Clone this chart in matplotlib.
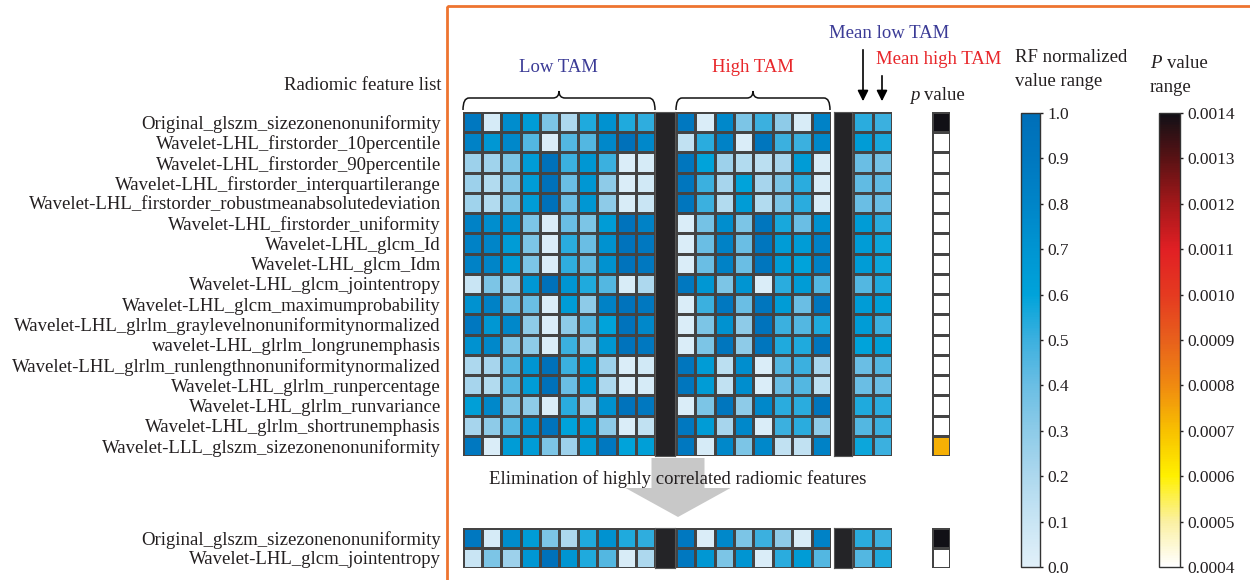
import numpy as np
import matplotlib.pyplot as plt
from matplotlib.colors import LinearSegmentedColormap, Normalize
from matplotlib.patches import Rectangle, FancyArrow, PathPatch
from matplotlib.path import Path
from matplotlib.cm import ScalarMappable

plt.rcParams['font.family'] = ['Liberation Serif', 'DejaVu Serif']
TXT = '#231f20'

# ---------------- data ----------------
features = [
    'Original_glszm_sizezonenonuniformity',
    'Wavelet-LHL_firstorder_10percentile',
    'Wavelet-LHL_firstorder_90percentile',
    'Wavelet-LHL_firstorder_interquartilerange',
    'Wavelet-LHL_firstorder_robustmeanabsolutedeviation',
    'Wavelet-LHL_firstorder_uniformity',
    'Wavelet-LHL_glcm_Id',
    'Wavelet-LHL_glcm_Idm',
    'Wavelet-LHL_glcm_jointentropy',
    'Wavelet-LHL_glcm_maximumprobability',
    'Wavelet-LHL_glrlm_graylevelnonuniformitynormalized',
    'wavelet-LHL_glrlm_longrunemphasis',
    'Wavelet-LHL_glrlm_runlengthnonuniformitynormalized',
    'Wavelet-LHL_glrlm_runpercentage',
    'Wavelet-LHL_glrlm_runvariance',
    'Wavelet-LHL_glrlm_shortrunemphasis',
    'Wavelet-LLL_glszm_sizezonenonuniformity',
]

low_tam = np.array([
    [0.90, 0.05, 0.75, 0.65, 0.35, 0.20, 0.55, 0.72, 0.55, 0.52],
    [0.82, 0.68, 0.78, 0.45, 0.03, 0.45, 0.45, 0.78, 0.97, 0.78],
    [0.25, 0.24, 0.35, 0.65, 0.97, 0.50, 0.68, 0.50, 0.03, 0.05],
    [0.25, 0.18, 0.33, 0.65, 0.97, 0.40, 0.68, 0.30, 0.03, 0.07],
    [0.24, 0.18, 0.35, 0.65, 0.97, 0.40, 0.68, 0.30, 0.04, 0.10],
    [0.82, 0.74, 0.72, 0.35, 0.03, 0.40, 0.35, 0.65, 0.95, 0.82],
    [0.82, 0.80, 0.65, 0.35, 0.03, 0.53, 0.40, 0.72, 0.95, 0.90],
    [0.82, 0.80, 0.65, 0.35, 0.03, 0.52, 0.42, 0.72, 0.95, 0.90],
    [0.10, 0.35, 0.25, 0.68, 0.97, 0.70, 0.55, 0.45, 0.04, 0.20],
    [0.72, 0.82, 0.40, 0.40, 0.03, 0.65, 0.30, 0.82, 0.95, 0.90],
    [0.90, 0.68, 0.78, 0.30, 0.03, 0.30, 0.45, 0.60, 0.95, 0.78],
    [0.72, 0.78, 0.35, 0.30, 0.03, 0.50, 0.30, 0.68, 0.95, 0.90],
    [0.20, 0.22, 0.45, 0.70, 0.97, 0.50, 0.65, 0.25, 0.03, 0.07],
    [0.22, 0.18, 0.45, 0.65, 0.97, 0.40, 0.65, 0.20, 0.03, 0.05],
    [0.63, 0.78, 0.35, 0.30, 0.03, 0.53, 0.25, 0.72, 0.95, 0.90],
    [0.22, 0.30, 0.45, 0.72, 0.95, 0.60, 0.65, 0.30, 0.03, 0.13],
    [0.90, 0.03, 0.65, 0.65, 0.35, 0.25, 0.65, 0.90, 0.60, 0.63],
])

high_tam = np.array([
    [0.90, 0.03, 0.78, 0.35, 0.50, 0.30, 0.04, 0.82],
    [0.13, 0.53, 0.82, 0.03, 0.92, 0.50, 0.50, 0.78],
    [0.92, 0.60, 0.25, 0.18, 0.15, 0.22, 0.65, 0.04],
    [0.92, 0.50, 0.22, 0.60, 0.22, 0.35, 0.53, 0.04],
    [0.92, 0.50, 0.18, 0.65, 0.18, 0.35, 0.53, 0.04],
    [0.03, 0.37, 0.74, 0.35, 0.92, 0.56, 0.40, 0.72],
    [0.03, 0.40, 0.82, 0.40, 0.92, 0.65, 0.65, 0.82],
    [0.03, 0.40, 0.82, 0.40, 0.92, 0.65, 0.60, 0.82],
    [0.90, 0.68, 0.35, 0.70, 0.03, 0.53, 0.65, 0.45],
    [0.03, 0.50, 0.90, 0.40, 0.92, 0.65, 0.40, 0.92],
    [0.03, 0.35, 0.72, 0.30, 0.95, 0.50, 0.45, 0.55],
    [0.03, 0.35, 0.92, 0.30, 0.92, 0.55, 0.55, 0.92],
    [0.92, 0.65, 0.15, 0.74, 0.03, 0.45, 0.50, 0.22],
    [0.92, 0.65, 0.13, 0.74, 0.03, 0.40, 0.45, 0.15],
    [0.03, 0.35, 0.92, 0.30, 0.78, 0.53, 0.53, 0.92],
    [0.90, 0.65, 0.22, 0.78, 0.03, 0.50, 0.53, 0.30],
    [0.90, 0.05, 0.78, 0.35, 0.78, 0.13, 0.13, 0.82],
])

mean_low = [0.53, 0.65, 0.40, 0.42, 0.40, 0.65, 0.65, 0.65, 0.45,
            0.65, 0.65, 0.60, 0.40, 0.40, 0.55, 0.45, 0.58]
mean_high = [0.50, 0.56, 0.37, 0.42, 0.40, 0.53, 0.58, 0.58, 0.55,
             0.63, 0.50, 0.63, 0.45, 0.40, 0.53, 0.50, 0.50]
p_values = [0.0014, 0.0004, 0.0004, 0.0004, 0.0004, 0.0004, 0.0004, 0.0004, 0.0004,
            0.0004, 0.0004, 0.0004, 0.0004, 0.0004, 0.0004, 0.0004, 0.00073]

# features left after removing highly correlated ones
kept = [0, 8]

rf_ticks = [0.0, 0.1, 0.2, 0.3, 0.4, 0.5, 0.6, 0.7, 0.8, 0.9, 1.0]
p_ticks = [0.0004, 0.0005, 0.0006, 0.0007, 0.0008, 0.0009, 0.0010,
           0.0011, 0.0012, 0.0013, 0.0014]

# ---------------- colours ----------------
blues = LinearSegmentedColormap.from_list('rf', [
    '#e1f0f9', '#c9e5f4', '#add8ee', '#8dcbe8', '#6abee4', '#3cb0df',
    '#00a3da', '#0095d2', '#0085c8', '#0078c0', '#006fb8'])
hot = LinearSegmentedColormap.from_list('pv', [
    '#ffffff', '#fbf0a0', '#fff000', '#f8c000', '#f08a10', '#e8601c',
    '#e53a20', '#e11f24', '#a5181a', '#5a1214', '#111016'])
rf_norm = Normalize(0, 1)
p_norm = Normalize(0.0004, 0.0014)

W, H = 1250, 580
fig = plt.figure(figsize=(12.5, 5.8), dpi=100)


def px_axes(x0, y0, x1, y1, **kw):
    return fig.add_axes([x0 / W, 1 - y1 / H, (x1 - x0) / W, (y1 - y0) / H], **kw)


def block(ax, data, cmap, norm):
    data = np.atleast_2d(data)
    ax.pcolormesh(data, cmap=cmap, norm=norm, edgecolors='#444444', linewidth=1.0)
    ax.set_xlim(0, data.shape[1])
    ax.set_ylim(data.shape[0], 0)
    ax.set_xticks([])
    ax.set_yticks([])
    for s in ax.spines.values():
        s.set_visible(False)


def dark_bar(x0, y0, x1, y1):
    ax = px_axes(x0, y0, x1, y1)
    ax.set_facecolor('#242427')
    ax.set_xticks([])
    ax.set_yticks([])
    for s in ax.spines.values():
        s.set_color('#555555')


def draw_rows(y0, y1, rows):
    ax_l = px_axes(463, y0, 655, y1)
    block(ax_l, low_tam[rows], blues, rf_norm)
    dark_bar(655, y0, 675, y1)
    block(px_axes(676, y0, 831, y1), high_tam[rows], blues, rf_norm)
    dark_bar(834, y0, 852, y1)
    means = np.column_stack([np.array(mean_low)[rows], np.array(mean_high)[rows]])
    block(px_axes(853, y0, 892, y1), means, blues, rf_norm)
    block(px_axes(932, y0, 950, y1), np.array(p_values)[rows].reshape(-1, 1), hot, p_norm)
    ax_l.set_yticks(np.arange(len(rows)) + 0.5)
    ax_l.set_yticklabels([features[k] for k in rows], fontsize=13.5, color=TXT)
    ax_l.tick_params(axis='y', length=0, pad=16)


draw_rows(112, 456, list(range(len(features))))
draw_rows(528, 568, kept)

# colour bars
cax1 = px_axes(1021, 113, 1040, 567)
cb1 = fig.colorbar(ScalarMappable(norm=rf_norm, cmap=blues), cax=cax1, ticks=rf_ticks)
cb1.ax.set_yticklabels(['%.1f' % t for t in rf_ticks], fontsize=12.5, color=TXT)
cax2 = px_axes(1159, 113, 1180, 567)
cb2 = fig.colorbar(ScalarMappable(norm=p_norm, cmap=hot), cax=cax2, ticks=p_ticks)
cb2.ax.set_yticklabels(['%.4f' % t for t in p_ticks], fontsize=12.5, color=TXT)
for cb in (cb1, cb2):
    cb.outline.set_edgecolor('#333333')
    cb.outline.set_linewidth(1.0)
    cb.ax.tick_params(length=2.5, width=1, pad=3, colors=TXT)

# ---------------- annotations (pixel coordinates overlay) ----------------
ov = fig.add_axes([0, 0, 1, 1], facecolor='none', zorder=5)
ov.set_xlim(0, W)
ov.set_ylim(H, 0)
ov.axis('off')

ov.add_patch(Rectangle((447, 6), 900, 700, fill=False, edgecolor='#ee7430', lw=2, clip_on=False))


def brace(x0, x1, y_end, y_line, y_tip, r=6):
    xm = (x0 + x1) / 2
    verts = [(x0, y_end), (x0, y_line), (x0 + r, y_line),
             (xm - r, y_line), (xm, y_line), (xm, y_tip),
             (xm, y_line), (xm + r, y_line),
             (x1 - r, y_line), (x1, y_line), (x1, y_end)]
    codes = [Path.MOVETO, Path.CURVE3, Path.CURVE3,
             Path.LINETO, Path.CURVE3, Path.CURVE3,
             Path.CURVE3, Path.CURVE3,
             Path.LINETO, Path.CURVE3, Path.CURVE3]
    ov.add_patch(PathPatch(Path(verts, codes), fill=False, lw=1.1, edgecolor='#111111'))


brace(463, 655, 110, 98, 91)
brace(676, 830, 110, 98, 91)

NAVY = '#3b3b96'
RED = '#e8262a'
ov.text(558, 67, 'Low TAM', fontsize=13.5, color=NAVY, ha='center', va='center')
ov.text(753, 67, 'High TAM', fontsize=13.5, color=RED, ha='center', va='center')
ov.text(889, 33, 'Mean low TAM', fontsize=13.5, color=NAVY, ha='center', va='center')
ov.text(939, 59, 'Mean high TAM', fontsize=13.5, color=RED, ha='center', va='center')
ov.annotate('', xy=(863, 104), xytext=(863, 47),
            arrowprops=dict(arrowstyle='-|>', color='black', lw=1.2, mutation_scale=16))
ov.annotate('', xy=(882, 104), xytext=(882, 73),
            arrowprops=dict(arrowstyle='-|>', color='black', lw=1.2, mutation_scale=16))

ov.text(441, 86, 'Radiomic feature list', fontsize=13.5, color=TXT, ha='right', va='center')
ov.text(910, 96, 'p', fontsize=13.5, color=TXT, ha='left', va='center', style='italic')
ov.text(924, 96, 'value', fontsize=13.5, color=TXT, ha='left', va='center')
ov.text(1015, 58, 'RF normalized', fontsize=13.5, color=TXT, ha='left', va='center')
ov.text(1015, 82, 'value range', fontsize=13.5, color=TXT, ha='left', va='center')
ov.text(1150, 64, 'P', fontsize=13.5, color=TXT, ha='left', va='center', style='italic')
ov.text(1167, 64, 'value', fontsize=13.5, color=TXT, ha='left', va='center')
ov.text(1150, 88, 'range', fontsize=13.5, color=TXT, ha='left', va='center')

ov.add_patch(FancyArrow(678, 458, 0, 59, width=53, head_width=105, head_length=29,
                        length_includes_head=True, color='#c8c8c8', lw=0))
ov.text(678, 479, 'Elimination of highly correlated radiomic features', fontsize=13.5,
        color=TXT, ha='center', va='center', zorder=6)

fig.savefig('out.png', dpi=100)
